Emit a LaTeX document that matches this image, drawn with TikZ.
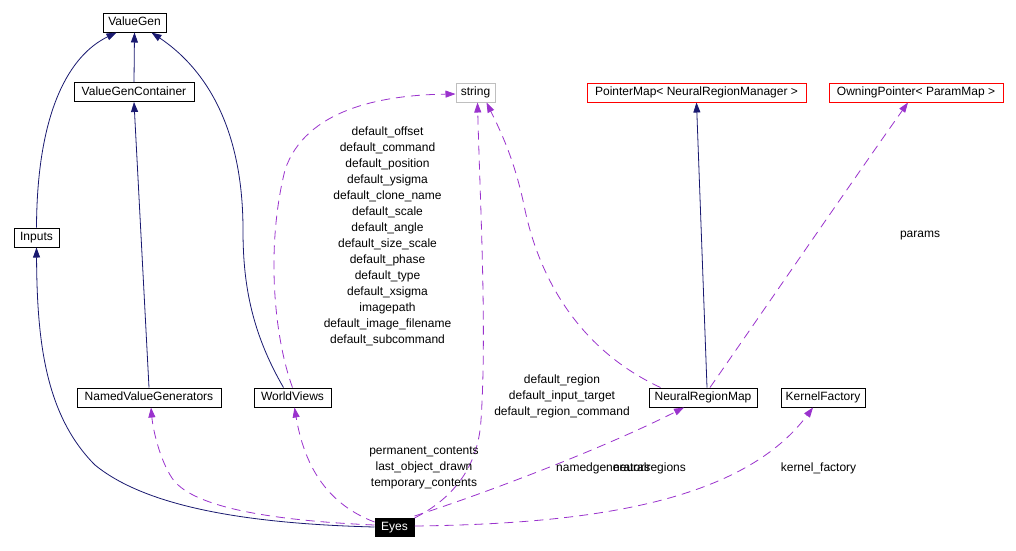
\documentclass[tikz,border=0pt]{standalone}
\usepackage{fontspec}
\setmainfont{Liberation Sans}
\usetikzlibrary{arrows.meta}
\definecolor{edgeblue}{HTML}{191970}
\definecolor{edgepurple}{HTML}{9A32CD}
\definecolor{boxred}{HTML}{FF0000}
\definecolor{boxgray}{HTML}{BFBFBF}
\begin{document}
\begin{tikzpicture}[x=1pt,y=-1pt,
  cls/.style={draw=black, line width=1pt, fill=white, inner sep=0pt, minimum height=19pt,
    font=\fontsize{12}{14}\selectfont, text height=8.6pt, text depth=2.4pt},
  redcls/.style={cls, draw=boxred},
  graycls/.style={cls, draw=boxgray},
  focuscls/.style={cls, fill=black, text=white, minimum height=18pt},
  inh/.style={draw=edgeblue, line width=0.8pt, -{Triangle[length=10pt,width=7pt]}},
  use/.style={draw=edgepurple, line width=0.8pt, dash pattern=on 9pt off 6pt,
    -{Triangle[length=10pt,width=7pt]}},
  lbl/.style={font=\fontsize{12}{16}\selectfont, align=center, inner sep=0pt, text=black}
]
\useasboundingbox (0,0) rectangle (1016,550);
\fill[white] (0,0) rectangle (1016,550);

% nodes
\node[cls, minimum width=63pt] (vg) at (134.5,22.5) {ValueGen};
\node[cls, minimum width=120pt] (vgc) at (134,92) {ValueGenContainer};
\node[cls, minimum width=45pt] (inp) at (36.5,237.5) {Inputs};
\node[cls, minimum width=144pt] (nvg) at (149,397.5) {NamedValueGenerators};
\node[cls, minimum width=77pt] (wv) at (292.5,397.5) {WorldViews};
\node[focuscls, minimum width=39pt] (eyes) at (394.5,527) {Eyes};
\node[graycls, minimum width=39pt] (str) at (475.5,92.5) {string};
\node[redcls, minimum width=219pt] (pm) at (696.5,92.5) {PointerMap< NeuralRegionManager >};
\node[redcls, minimum width=174pt] (op) at (916,92.5) {OwningPointer< ParamMap >};
\node[cls, minimum width=108pt] (nrm) at (703,397.5) {NeuralRegionMap};
\node[cls, minimum width=84pt] (kf) at (823,397.5) {KernelFactory};

% inheritance edges
\draw[inh] (inp.north) .. controls (37,110) and (70,55) .. ([xshift=14pt]vg.south west);
\draw[inh] (vgc.north) -- (vg.south);
\draw[inh] ([xshift=-9pt]wv.north) .. controls (250,330) and (243,280) .. (243,230)
  .. controls (243,120) and (200,65) .. ([xshift=-15pt]vg.south east);
\draw[inh] (nvg.north) -- (vgc.south);
\draw[inh] (eyes.west) .. controls (260,524) and (150,510) .. (95,465)
  .. controls (45,415) and (37,340) .. (inp.south);
\draw[inh] ([xshift=4pt]nrm.north) -- (pm.south);

% usage edges
\draw[use] ([yshift=2pt]eyes.west) .. controls (260,520) and (190,505) .. (172,478)
  .. controls (160,460) and (153,430) .. ([xshift=2pt]nvg.south);
\draw[use] ([yshift=5pt]eyes.west) .. controls (330,505) and (305,470) .. ([xshift=2pt]wv.south);
\draw[use] (wv.north) .. controls (275,340) and (265,250) .. (285,170)
  .. controls (305,110) and (380,95) .. ([yshift=-1.5pt]str.west);
\draw[use] ([yshift=9pt]eyes.east) .. controls (450,500) and (478,470) .. (481,420)
  .. controls (487,330) and (480,200) .. ([xshift=2pt]str.south);
\draw[use] ([xshift=12pt]nrm.north west) .. controls (580,350) and (540,280) .. (525,210)
  .. controls (515,160) and (500,130) .. ([xshift=11pt]str.south);
\draw[use] ([xshift=7pt]nrm.north) .. controls (750,330) and (860,170) .. ([xshift=-8pt]op.south);
\draw[use] ([yshift=11pt]eyes.east) .. controls (480,495) and (600,450) .. ([xshift=-19pt]nrm.south);
\draw[use] ([yshift=1pt]eyes.east) .. controls (580,524) and (740,505) .. ([xshift=-10pt]kf.south);

% labels
\node[lbl] (l1) at (387.5,236) {default\_offset\\default\_command\\default\_position\\default\_ysigma\\default\_clone\_name\\default\_scale\\default\_angle\\default\_size\_scale\\default\_phase\\default\_type\\default\_xsigma\\imagepath\\default\_image\_filename\\default\_subcommand};
\node[lbl] (l2) at (562,396) {default\_region\\default\_input\_target\\default\_region\_command};
\node[lbl] (l3) at (424,468) {permanent\_contents\\last\_object\_drawn\\temporary\_contents};
\node[lbl, anchor=west] (l4) at (556,468) {namedgenerators};
\node[lbl, anchor=west] (l5) at (613,468) {neuralregions};
\node[lbl] (l6) at (818.5,468) {kernel\_factory};
\node[lbl] (l7) at (920,236) {params};
\end{tikzpicture}
\end{document}
